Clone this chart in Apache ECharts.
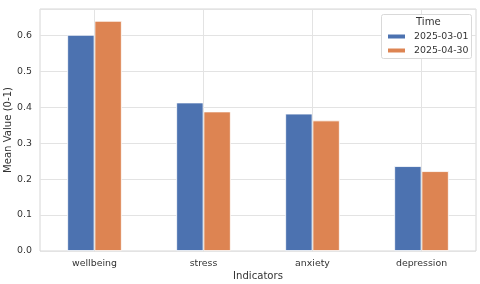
<!DOCTYPE html>
<html><head><meta charset="utf-8">
<script src="https://cdn.jsdelivr.net/npm/echarts@6/dist/echarts.min.js"></script>
<style>html,body{margin:0;padding:0;background:#fff}#c{width:480px;height:284px}</style>
</head><body><div id="c"></div>
<script>
const categories = ['wellbeing', 'stress', 'anxiety', 'depression'];
const seriesNames = ['2025-03-01', '2025-04-30'];
const values0301 = [0.601, 0.413, 0.382, 0.236];
const values0430 = [0.640, 0.388, 0.363, 0.222];
const legendTitle = 'Time';
const xName = 'Indicators';
const yName = 'Mean Value (0-1)';

const font = 'DejaVu Sans';
const txt = '#333';
const chart = echarts.init(document.getElementById('c'), null, {renderer: 'canvas'});
chart.setOption({
  animation: false,
  textStyle: {fontFamily: font},
  grid: {left: 40, right: 4, top: 9, bottom: 33, show: true, borderColor: '#d6d6d6', borderWidth: 1,
         containLabel: false, outerBoundsMode: 'none'},
  xAxis: {
    type: 'category', data: categories,
    axisLine: {show: false}, axisTick: {show: false},
    axisLabel: {color: txt, fontSize: 9.4, fontFamily: font, margin: 8},
    splitLine: {show: false},
    name: xName, nameLocation: 'middle', nameGap: 20, nameMoveOverlap: false,
    nameTextStyle: {color: txt, fontSize: 10.1, fontFamily: font}
  },
  yAxis: {
    type: 'value', min: 0, max: 0.673, interval: 0.1,
    axisLine: {show: false}, axisTick: {show: false},
    axisLabel: {color: txt, fontSize: 9.4, fontFamily: font, margin: 8, showMaxLabel: false,
      formatter: v => v.toFixed(1)},
    splitLine: {lineStyle: {color: '#e3e3e3', width: 1}},
    name: yName, nameLocation: 'middle', nameGap: 27, nameMoveOverlap: false,
    nameTextStyle: {color: txt, fontSize: 10.1, fontFamily: font}
  },
  legend: {
    data: seriesNames, orient: 'vertical', left: 386, top: 32,
    itemWidth: 19, itemHeight: 6, itemGap: 5, z: 60,
    textStyle: {color: txt, fontSize: 9.4, fontFamily: font, padding: [0, 0, 0, 3]},
    icon: 'rect', padding: 0
  },
  graphic: [
    {type: 'rect', left: 381, top: 14, z: 50, shape: {width: 90, height: 44, r: 2},
     style: {fill: '#fff', stroke: '#d9d9d9', lineWidth: 1}},
    {type: 'text', left: 416, top: 17, z: 60, style: {text: legendTitle, fill: txt, font: '10.1px "DejaVu Sans"'}}
  ],
  series: [
    {type: 'line', data: [], z: 1, silent: true,
     markLine: {silent: true, symbol: 'none', label: {show: false},
       lineStyle: {color: '#e3e3e3', width: 1, type: 'solid'},
       data: categories.map(c => ({xAxis: c}))}},
    {name: seriesNames[0], type: 'bar', data: values0301, barWidth: '25%', barGap: '0%', z: 2,
     itemStyle: {color: '#4c72b0', borderColor: '#fff', borderWidth: 0.8}},
    {name: seriesNames[1], type: 'bar', data: values0430, barWidth: '25%', barGap: '0%', z: 2,
     itemStyle: {color: '#dd8452', borderColor: '#fff', borderWidth: 0.8}}
  ]
});
</script></body></html>
